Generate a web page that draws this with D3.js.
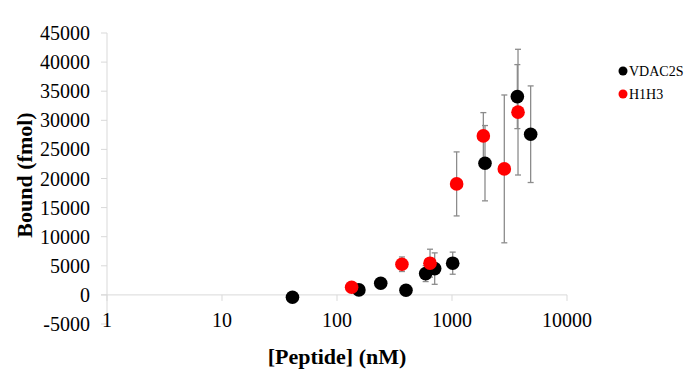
<!DOCTYPE html>
<meta charset='utf-8'>
<style>
body {
    margin: 0;
    background: #fff;
}

.chart {
    width: 692px;
    height: 371px;
}

svg text {
    font-family: 'Liberation Serif', 'DejaVu Serif', serif;
    fill: #000;
}

.tick-label {
    font-size: 20px;
}

.axis-title {
    font-size: 22px;
    font-weight: bold;
}

.legend-label {
    font-size: 14px;
}

.axis-line {
    stroke: #d9d9d9;
    stroke-width: 1px;
    fill: none;
}

.err {
    stroke: #8c8c8c;
    stroke-width: 1.3px;
}
</style>

<body>
    <div class='chart'></div>
    <script src='https://cdn.jsdelivr.net/npm/d3@7'></script>
    <script>
    // data
    var seriesNames = ['VDAC2S', 'H1H3'];
    var seriesColors = ['#000000', '#ff0000'];

    var vdacX = [41, 155, 240, 398, 590, 707, 1014, 1936, 3700, 4830];
    var vdacY = [-400, 860, 2000, 800, 3660, 4520, 5450, 22630, 34070, 27610];
    var vdacErr = [0, 0, 0, 0, 1370, 2700, 1900, 6470, 5500, 8300];

    var h1h3X = [134, 367, 644, 1097, 1873, 2850, 3750];
    var h1h3Y = [1320, 5270, 5450, 19070, 27320, 21650, 31400];
    var h1h3Err = [0, 1250, 2400, 5500, 4000, 12700, 10800];

    var xTicks = [1, 10, 100, 1000, 10000];
    var yTicks = [-5000, 0, 5000, 10000, 15000, 20000, 25000, 30000, 35000, 40000, 45000];

    function drawChart() {
        var width = 692,
            height = 371;
        var serif = 'Liberation Serif';

        var x = d3.scaleLog()
            .domain([1, 10000])
            .range([107, 567]);

        var y = d3.scaleLinear()
            .domain([-5000, 45000])
            .range([324, 33]);

        var svg = d3.select('.chart').append('svg')
            .attr('width', width)
            .attr('height', height)
            .attr('font-family', serif);

        // y axis
        svg.append('line')
            .attr('class', 'axis-line')
            .attr('x1', x(1)).attr('x2', x(1))
            .attr('y1', y(-5000)).attr('y2', y(45000));

        svg.selectAll('.ytick')
            .data(yTicks)
            .enter().append('line')
            .attr('class', 'axis-line')
            .attr('x1', x(1) - 6).attr('x2', x(1))
            .attr('y1', function(d) { return y(d); })
            .attr('y2', function(d) { return y(d); });

        svg.selectAll('.ylabel')
            .data(yTicks)
            .enter().append('text')
            .attr('class', 'tick-label')
            .attr('font-family', serif)
            .attr('text-anchor', 'end')
            .attr('x', 90)
            .attr('y', function(d) { return y(d) + 7; })
            .text(function(d) { return d; });

        // x axis sits at zero
        svg.append('line')
            .attr('class', 'axis-line')
            .attr('x1', x(1) - 6).attr('x2', x(10000))
            .attr('y1', y(0)).attr('y2', y(0));

        svg.selectAll('.xtick')
            .data(xTicks)
            .enter().append('line')
            .attr('class', 'axis-line')
            .attr('x1', function(d) { return x(d); })
            .attr('x2', function(d) { return x(d); })
            .attr('y1', y(0)).attr('y2', y(0) + 6);

        svg.selectAll('.xlabel')
            .data(xTicks)
            .enter().append('text')
            .attr('class', 'tick-label')
            .attr('font-family', serif)
            .attr('text-anchor', 'middle')
            .attr('x', function(d) { return x(d); })
            .attr('y', 327)
            .text(function(d) { return d; });

        svg.append('text')
            .attr('class', 'axis-title')
            .attr('text-anchor', 'middle')
            .attr('x', (x(1) + x(10000)) / 2)
            .attr('y', 364)
            .text('[Peptide] (nM)');

        svg.append('text')
            .attr('class', 'axis-title')
            .attr('text-anchor', 'middle')
            .attr('transform', 'translate(32,175) rotate(-90)')
            .text('Bound (fmol)');

        var series = [
            { xs: vdacX, ys: vdacY, errs: vdacErr },
            { xs: h1h3X, ys: h1h3Y, errs: h1h3Err }
        ];

        series.forEach(function(s) {
            var pts = s.xs.map(function(v, i) {
                return { x: v, y: s.ys[i], e: s.errs[i] };
            }).filter(function(p) { return p.e > 0; });

            var g = svg.append('g').attr('class', 'err');
            g.selectAll('.bar').data(pts).enter().append('line')
                .attr('x1', function(d) { return x(d.x); })
                .attr('x2', function(d) { return x(d.x); })
                .attr('y1', function(d) { return y(d.y - d.e); })
                .attr('y2', function(d) { return y(d.y + d.e); });
            [-1, 1].forEach(function(sign) {
                g.selectAll('.cap' + sign).data(pts).enter().append('line')
                    .attr('x1', function(d) { return x(d.x) - 3; })
                    .attr('x2', function(d) { return x(d.x) + 3; })
                    .attr('y1', function(d) { return y(d.y + sign * d.e); })
                    .attr('y2', function(d) { return y(d.y + sign * d.e); });
            });
        });

        series.forEach(function(s, k) {
            svg.append('g').selectAll('circle')
                .data(s.xs)
                .enter().append('circle')
                .attr('cx', function(d) { return x(d); })
                .attr('cy', function(d, i) { return y(s.ys[i]); })
                .attr('r', 6.8)
                .style('fill', seriesColors[k]);
        });

        // legend
        var legend = svg.selectAll('.legend')
            .data(seriesNames)
            .enter().append('g')
            .attr('transform', function(d, i) { return 'translate(623,' + (71 + i * 23) + ')'; });

        legend.append('circle')
            .attr('r', 4.5)
            .style('fill', function(d, i) { return seriesColors[i]; });

        legend.append('text')
            .attr('class', 'legend-label')
            .attr('x', 6)
            .attr('y', 5)
            .text(function(d) { return d; });
    }

    drawChart();
    </script>
